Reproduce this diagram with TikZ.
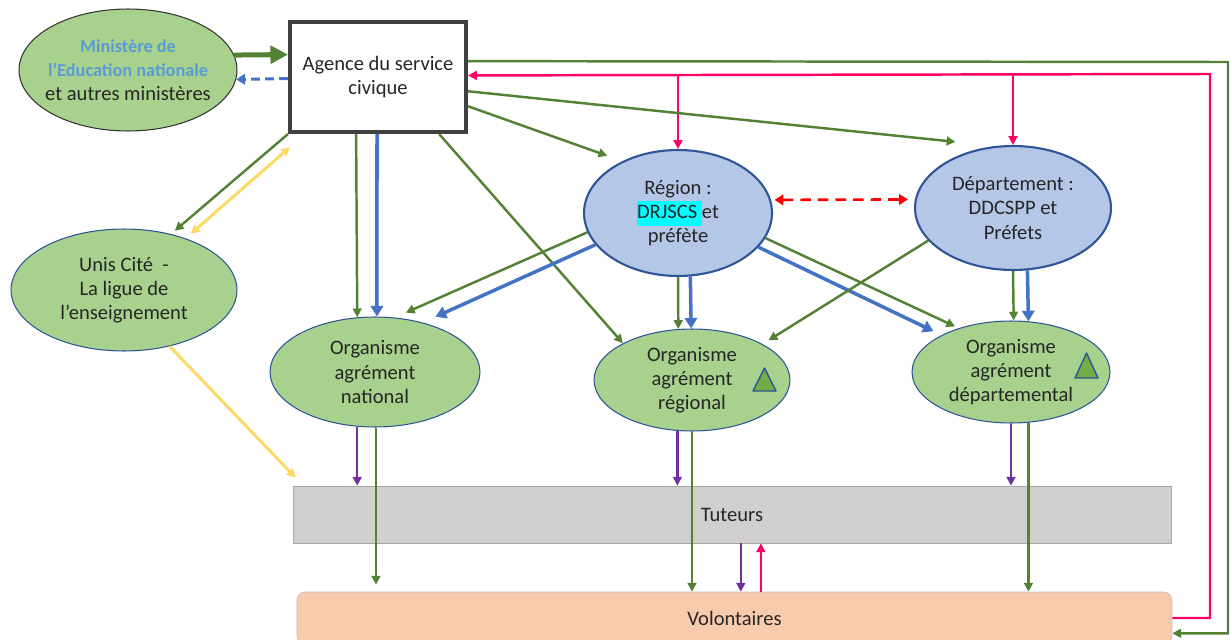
\documentclass[tikz,border=0pt]{standalone}
\usepackage{fontspec}
\setmainfont{Carlito}
\usetikzlibrary{arrows.meta,shapes.geometric}

\definecolor{okgreen}{HTML}{548235}
\definecolor{fillgreen}{HTML}{A9D18E}
\definecolor{okblue}{HTML}{4472C4}
\definecolor{regfill}{HTML}{B4C7E7}
\definecolor{regline}{HTML}{2F5597}
\definecolor{okpink}{HTML}{FF0066}
\definecolor{okyellow}{HTML}{FFD966}
\definecolor{okpurple}{HTML}{7030A0}
\definecolor{tutfill}{HTML}{D0CECE}
\definecolor{volfill}{HTML}{F8CBAD}
\definecolor{minblue}{HTML}{5B9BD5}
\definecolor{hl}{HTML}{00FFFF}
\definecolor{trigreen}{HTML}{70AD47}

\newcommand\minfont{\fontsize{10.4}{13.8}\selectfont\bfseries\color{minblue}}
\setlength\fboxsep{0pt}

\begin{document}
\begin{tikzpicture}[
    x=0.02cm, y=-0.02cm,
    font=\fontsize{11.7}{13.8}\selectfont,
    every node/.style={align=center, inner sep=0pt, text=black!85},
    greenell/.style={ellipse, draw=regline, line width=0.6pt, fill=fillgreen},
    blueell/.style={ellipse, draw=regline, line width=1.2pt, fill=regfill},
    tip/.style={-{Triangle[length=5pt,width=5pt]}},
    gline/.style={okgreen, line width=1.4pt, tip},
    bline/.style={okblue, line width=2pt, -{Triangle[length=6pt,width=7pt]}},
    pline/.style={okpink, line width=1.4pt, tip},
    vline/.style={okpurple, line width=1.4pt, tip},
    yline/.style={okyellow, line width=1.7pt},
    tri/.style={fill=trigreen, draw=regline, line width=0.8pt, line join=round}
]
\useasboundingbox (0,0) rectangle (1230,639);

% ---------- top ----------
\node[greenell, draw=black!80, minimum width=4.36cm, minimum height=2.44cm,
      inner xsep=-10pt] (min) at (128,70)
  {{\minfont Ministère de}\\ {\minfont l’Education nationale}\\ et autres ministères};
\node[draw=black!75, line width=0.08cm, fill=white,
      minimum width=3.52cm, minimum height=2.2cm] (agence) at (378,77)
  {Agence du service\\ civique};
\node[greenell, minimum width=4.52cm, minimum height=2.44cm] (unis) at (124,290)
  {Unis Cité~~-\\ La ligue de\\ l’enseignement};

% ---------- services de l'etat ----------
\node[blueell, minimum width=3.76cm, minimum height=2.52cm] (region) at (678,213)
  {Région :\\ \colorbox{hl}{\strut DRJSCS }et\\ préfète};
\node[blueell, minimum width=3.92cm, minimum height=2.48cm] (dep) at (1013,208)
  {Département :\\ DDCSPP et\\ Préfets};

% ---------- organismes ----------
\node[greenell, minimum width=4.2cm, minimum height=2.2cm] (natl) at (375,372)
  {Organisme\\ agrément\\ national};
\node[greenell, minimum width=3.92cm, minimum height=2.04cm] (regorg) at (692,380)
  {Organisme\\ agrément\\ régional};
\node[greenell, minimum width=3.96cm, minimum height=2.04cm] (deporg) at (1011,372)
  {Organisme\\ agrément\\ départemental};
\draw[tri] (753,391) -- (764.5,368) -- (776,391) -- cycle;
\draw[tri] (1075,378) -- (1086.5,353) -- (1098,378) -- cycle;

% ---------- bandes ----------
\node[draw=black!35, fill=tutfill, minimum width=17.56cm, minimum height=1.14cm]
  (tut) at (732,514.5) {Tuteurs};
\node[draw=black!25, fill=volfill, rounded corners=0.16cm,
      minimum width=17.5cm, minimum height=1.04cm] (vol) at (734.5,618) {Volontaires};

\coordinate (pinkc) at (1210,74);
\coordinate (greenc) at (1228,62);

% ---------- ministere / agence ----------
\draw[okgreen, line width=0.1cm, -{Triangle[length=10pt,width=10pt]}] (min.8) -- (agence.166.3);
\draw[okblue, line width=1.7pt, dash pattern=on 5pt off 3pt,
      -{Triangle[length=5pt,width=6pt]}] (agence.181.3) -- (min.355.2);

% ---------- boucles exterieures ----------
\draw[gline] (agence.10.7) -- (greenc) |- (vol.358.4);
\draw[pline] (vol.east) -| (pinkc) -- (agence.1.9);
\foreach \n in {region, dep}
  \draw[pline] (\n.north |- pinkc) -- (\n.north);

% ---------- depuis l'agence ----------
\draw[gline, shorten >=0.8cm] (agence.351.2) -- (dep.106.9);
\draw[gline, shorten >=0.32cm] (agence.342.1) -- (region.137.9);
\draw[gline, shorten >=0.1cm] (agence.south west) -- (unis.50.4);
\draw[yline, {Triangle[length=5pt,width=5pt]}-{Triangle[length=5pt,width=5pt]},
      shorten <=0.4cm, shorten >=0.14cm] (agence.218.8) -- (unis.40.3);
\draw[gline] (agence.249.8) -- (natl.108.4);
\draw[bline] (agence.269) -- (natl.88);
\draw[gline] (agence.317.9) -- (regorg.152.2);

% ---------- depuis la region ----------
\draw[gline, shorten >=0.24cm] (region.192) -- (natl.70.6);
\draw[bline, shorten >=0.28cm] (region.201.1) -- (natl.46.3);
\draw[gline] (region.south) -- (regorg.105.5);
\draw[bline] (region.281.8) -- (regorg.91.1);
\draw[gline, shorten >=0.08cm] (region.344.9) -- (deporg.140.4);
\draw[bline, shorten >=0.18cm] (region.337) -- (deporg.152.8);
\draw[red, line width=1.5pt, dash pattern=on 6pt off 4pt,
      {Triangle[length=5pt,width=6pt]}-{Triangle[length=5pt,width=6pt]},
      shorten <=2pt, shorten >=4pt] (region.8) -- (dep.175.3);

% ---------- depuis le departement ----------
\draw[gline, shorten >=0.14cm] (dep.201.9) -- (regorg.27.8);
\draw[gline] (dep.south) -- (deporg.87.8);
\draw[bline] (dep.283.8) -- (deporg.71.3);

% ---------- vers tuteurs et volontaires ----------
\draw[vline] (natl.252.6) -- (natl.252.6 |- tut.north);
\draw[vline] (regorg.254.5) -- (regorg.254.5 |- tut.north);
\draw[vline] (deporg.south) -- (deporg.south |- tut.north);
\draw[gline, shorten >=0.14cm] (natl.271) -- (natl.271 |- vol.north);
\draw[gline] (regorg.south) -- (regorg.south |- vol.north);
\draw[gline] (deporg.289.8) -- (deporg.289.8 |- vol.north);
\draw[vline] (tut.287.5) -- (tut.287.5 |- vol.north);
\draw[pline] (vol.45.6) -- (vol.45.6 |- tut.south);
\draw[yline, -{Triangle[length=5pt,width=5pt]}, shorten >=0.22cm]
  (unis.309.6) -- ([xshift=0.21cm]tut.north west);

\end{tikzpicture}
\end{document}
